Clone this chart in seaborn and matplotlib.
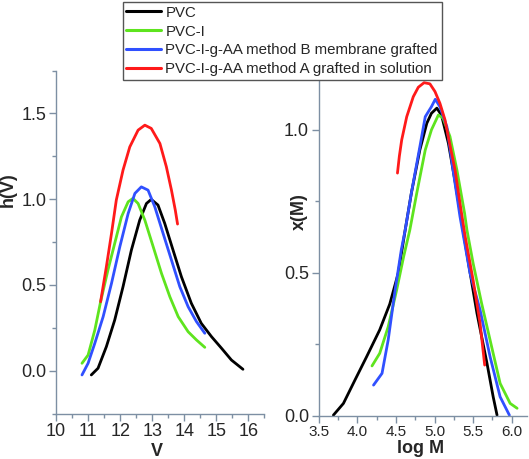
import numpy as np
import matplotlib
matplotlib.use("Agg")
import matplotlib.pyplot as plt
import pandas as pd
import seaborn as sns
from matplotlib.ticker import MultipleLocator, FormatStrFormatter

# painel esquerdo: h(V) x V
pvc_v = [11.10, 11.31, 11.57, 11.83, 12.09, 12.35, 12.61, 12.82, 12.97, 13.18, 13.39, 13.65, 13.91, 14.22, 14.53, 14.85, 15.16, 15.47, 15.83]
pvc_h = [-0.025, 0.014, 0.14, 0.295, 0.49, 0.703, 0.878, 0.975, 0.999, 0.966, 0.859, 0.703, 0.548, 0.393, 0.276, 0.198, 0.131, 0.062, 0.008]

pvci_v = [10.81, 11.0, 11.21, 11.39, 11.62, 11.83, 12.04, 12.25, 12.40, 12.56, 12.77, 13.03, 13.29, 13.55, 13.81, 14.12, 14.38, 14.64]
pvci_h = [0.043, 0.091, 0.237, 0.402, 0.587, 0.742, 0.897, 0.985, 1.005, 0.975, 0.878, 0.723, 0.567, 0.431, 0.315, 0.227, 0.179, 0.136]

metB_v = [10.81, 11.0, 11.21, 11.47, 11.73, 11.99, 12.25, 12.46, 12.66, 12.87, 13.08, 13.34, 13.60, 13.86, 14.12, 14.38, 14.64]
metB_h = [-0.025, 0.043, 0.16, 0.315, 0.509, 0.723, 0.917, 1.034, 1.072, 1.053, 0.956, 0.80, 0.645, 0.49, 0.373, 0.286, 0.218]

metA_v = [11.39, 11.57, 11.73, 11.88, 12.09, 12.30, 12.56, 12.77, 12.97, 13.24, 13.44, 13.60, 13.72, 13.79]
metA_h = [0.402, 0.606, 0.80, 0.995, 1.17, 1.305, 1.403, 1.432, 1.413, 1.325, 1.19, 1.053, 0.936, 0.855]

# painel direito: x(M) x log M
pvc_logm = [3.69, 3.82, 3.97, 4.12, 4.29, 4.42, 4.53, 4.62, 4.70, 4.81, 4.90, 4.96, 5.03, 5.09, 5.18, 5.27, 5.37, 5.44, 5.55, 5.68, 5.76, 5.81]
pvc_x = [0.002, 0.043, 0.125, 0.206, 0.30, 0.39, 0.498, 0.649, 0.778, 0.929, 1.022, 1.057, 1.075, 1.051, 0.952, 0.813, 0.649, 0.533, 0.358, 0.183, 0.066, 0.002]

pvci_logm = [4.19, 4.29, 4.40, 4.51, 4.60, 4.68, 4.77, 4.88, 4.96, 5.05, 5.11, 5.20, 5.29, 5.39, 5.42, 5.50, 5.61, 5.74, 5.85, 5.98, 6.07]
pvci_x = [0.174, 0.218, 0.311, 0.44, 0.556, 0.649, 0.778, 0.929, 0.999, 1.051, 1.04, 0.976, 0.859, 0.707, 0.649, 0.533, 0.393, 0.241, 0.113, 0.043, 0.026]

metB_logm = [4.21, 4.32, 4.40, 4.49, 4.57, 4.62, 4.70, 4.81, 4.88, 4.96, 5.01, 5.07, 5.16, 5.24, 5.33, 5.46, 5.59, 5.72, 5.85, 5.97]
metB_x = [0.107, 0.148, 0.265, 0.44, 0.58, 0.649, 0.778, 0.94, 1.045, 1.08, 1.106, 1.08, 1.01, 0.859, 0.696, 0.498, 0.37, 0.206, 0.066, 0.002]

metA_logm = [4.52, 4.544, 4.575, 4.64, 4.725, 4.79, 4.865, 4.94, 5.006, 5.07, 5.136, 5.20, 5.266, 5.33, 5.395, 5.50, 5.59, 5.65]
metA_x = [0.848, 0.906, 0.964, 1.045, 1.115, 1.148, 1.164, 1.16, 1.133, 1.092, 1.034, 0.946, 0.859, 0.743, 0.63, 0.474, 0.323, 0.177]

nomes = ["PVC", "PVC-I", "PVC-I-g-AA method B membrane grafted", "PVC-I-g-AA method A grafted in solution"]
cores = ["#000000", "#5ee41e", "#3050ff", "#ff1a1a"]

sns.set_style("ticks")
plt.rcParams['font.family'] = ['Liberation Sans', 'DejaVu Sans']

cor_eixo = "#7d8fa3"

fig = plt.figure(figsize=(5.29, 4.59), dpi=100)
ax1 = fig.add_axes([0.1059, 0.0991, 0.394, 0.747])
ax2 = fig.add_axes([0.6025, 0.0943, 0.394, 0.748])

esquerda = [(pvc_v, pvc_h), (pvci_v, pvci_h), (metB_v, metB_h), (metA_v, metA_h)]
direita = [(pvc_logm, pvc_x), (pvci_logm, pvci_x), (metB_logm, metB_x), (metA_logm, metA_x)]

for n in range(4):
    df1 = pd.DataFrame({"V": esquerda[n][0], "h": esquerda[n][1]})
    sns.lineplot(data=df1, x="V", y="h", ax=ax1, color=cores[n], lw=2.0, sort=False)
    df2 = pd.DataFrame({"logM": direita[n][0], "x": direita[n][1]})
    sns.lineplot(data=df2, x="logM", y="x", ax=ax2, color=cores[n], lw=2.0, sort=False)

ax1.set_xlim(10, 16.5)
ax1.set_ylim(-0.25, 1.75)
ax1.xaxis.set_major_locator(MultipleLocator(1))
ax1.xaxis.set_minor_locator(MultipleLocator(0.5))
ax1.yaxis.set_major_locator(MultipleLocator(0.5))
ax1.yaxis.set_minor_locator(MultipleLocator(0.25))
ax1.yaxis.set_major_formatter(FormatStrFormatter('%.1f'))

ax2.set_xlim(3.5, 6.2)
ax2.set_ylim(0, 1.2)
ax2.xaxis.set_major_locator(MultipleLocator(0.5))
ax2.xaxis.set_minor_locator(MultipleLocator(0.25))
ax2.yaxis.set_major_locator(MultipleLocator(0.5))
ax2.yaxis.set_minor_locator(MultipleLocator(0.25))
ax2.xaxis.set_major_formatter(FormatStrFormatter('%.1f'))
ax2.yaxis.set_major_formatter(FormatStrFormatter('%.1f'))

for ax in [ax1, ax2]:
    sns.despine(ax=ax)
    for s in ['left', 'bottom']:
        ax.spines[s].set_color(cor_eixo)
        ax.spines[s].set_linewidth(1.0)
    ax.tick_params(which='major', direction='out', length=5, width=1, color=cor_eixo)
    ax.tick_params(which='minor', direction='out', length=3, width=1, color=cor_eixo)

ax1.tick_params(axis='both', which='major', labelsize=13, pad=2)
ax2.tick_params(axis='y', which='major', labelsize=13, pad=2)
ax2.tick_params(axis='x', which='major', labelsize=11, pad=2)

ax1.set_xlabel("V", fontsize=13, fontweight='bold')
ax1.set_ylabel("h(V)", fontsize=13, fontweight='bold')
ax2.set_xlabel("log M", fontsize=13, fontweight='bold')
ax2.set_ylabel("x(M)", fontsize=13, fontweight='bold')
ax1.xaxis.set_label_coords(0.483, -0.085)
ax1.yaxis.set_label_coords(-0.19, 0.652)
ax2.xaxis.set_label_coords(0.488, -0.072)
ax2.yaxis.set_label_coords(-0.053, 0.594)

linhas = [plt.Line2D([], [], color=c, lw=2.2) for c in cores]
leg = fig.legend(linhas, nomes, loc='upper left', bbox_to_anchor=(0.232, 0.996),
                 fontsize=10.8, frameon=True, fancybox=False, framealpha=1,
                 edgecolor='#555555', borderpad=0.25, labelspacing=0.33,
                 handlelength=2.3, handletextpad=0.3, borderaxespad=0)
leg.get_frame().set_linewidth(1.0)

plt.savefig("out.png", dpi=100)
